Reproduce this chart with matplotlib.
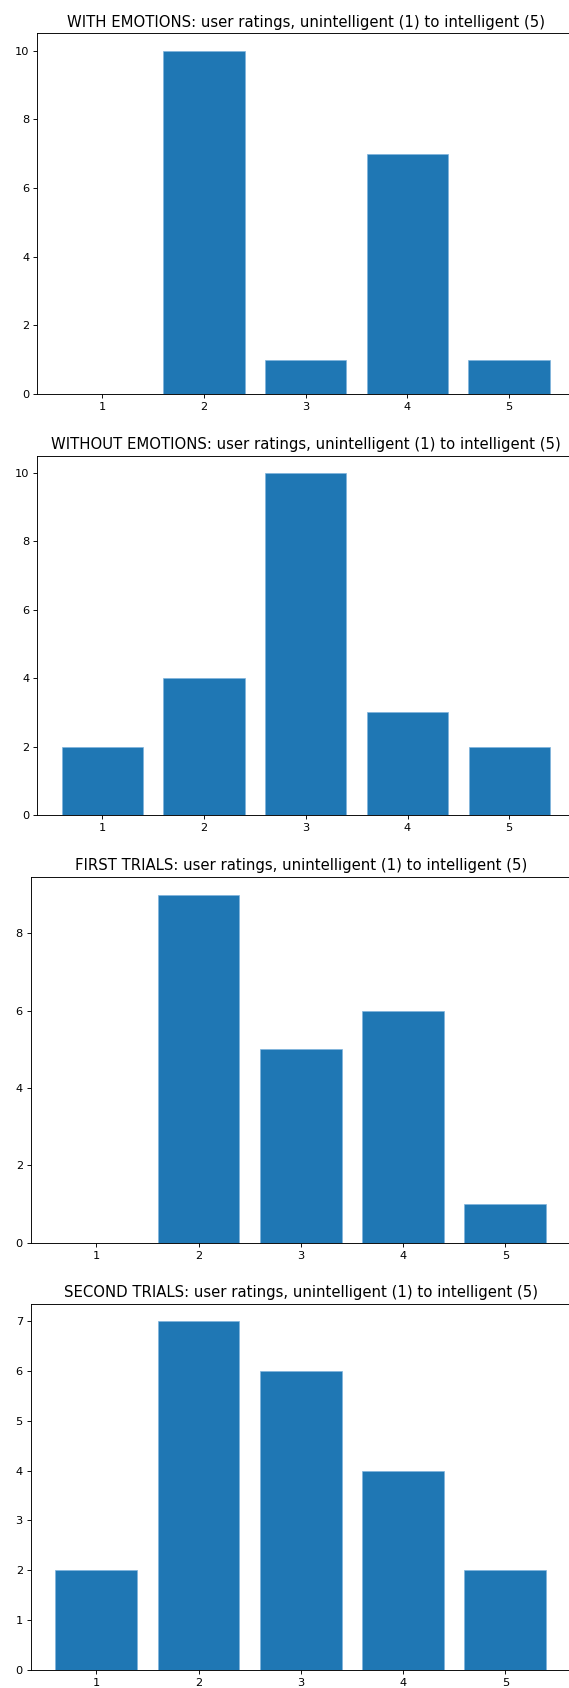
import matplotlib
matplotlib.use("Agg")
import matplotlib.pyplot as plt

# ratings 1..5 and how many users picked each one
ratings = [1, 2, 3, 4, 5]
with_emotions = [0, 10, 1, 7, 1]
without_emotions = [2, 4, 10, 3, 2]
first_trials = [0, 9, 5, 6, 1]
second_trials = [2, 7, 6, 4, 2]

titles = [
    "WITH EMOTIONS: user ratings, unintelligent (1) to intelligent (5)",
    "WITHOUT EMOTIONS: user ratings, unintelligent (1) to intelligent (5)",
    "FIRST TRIALS: user ratings, unintelligent (1) to intelligent (5)",
    "SECOND TRIALS: user ratings, unintelligent (1) to intelligent (5)",
]
counts = [with_emotions, without_emotions, first_trials, second_trials]

W, H = 569, 1688
DPI = 82
fig = plt.figure(figsize=((W + 0.01) / DPI, (H + 0.01) / DPI), dpi=DPI)

# pixel boxes of each panel: left, top, bottom, width
boxes = [
    (37.2, 33.5, 394.0, 537.0),
    (37.3, 455.7, 815.0, 537.0),
    (30.8, 877.3, 1242.7, 540.0),
    (30.8, 1304.0, 1669.7, 540.0),
]

for (left, top, bottom, width), title, vals in zip(boxes, titles, counts):
    ax = fig.add_axes([left / W, 1 - bottom / H, width / W, (bottom - top) / H])
    ax.bar(ratings, vals, color='#1f77b4', edgecolor='#7fb3dc', linewidth=0.6)
    ax.set_title(title, fontsize=13.1)

fig.savefig("out.png", dpi=DPI)
